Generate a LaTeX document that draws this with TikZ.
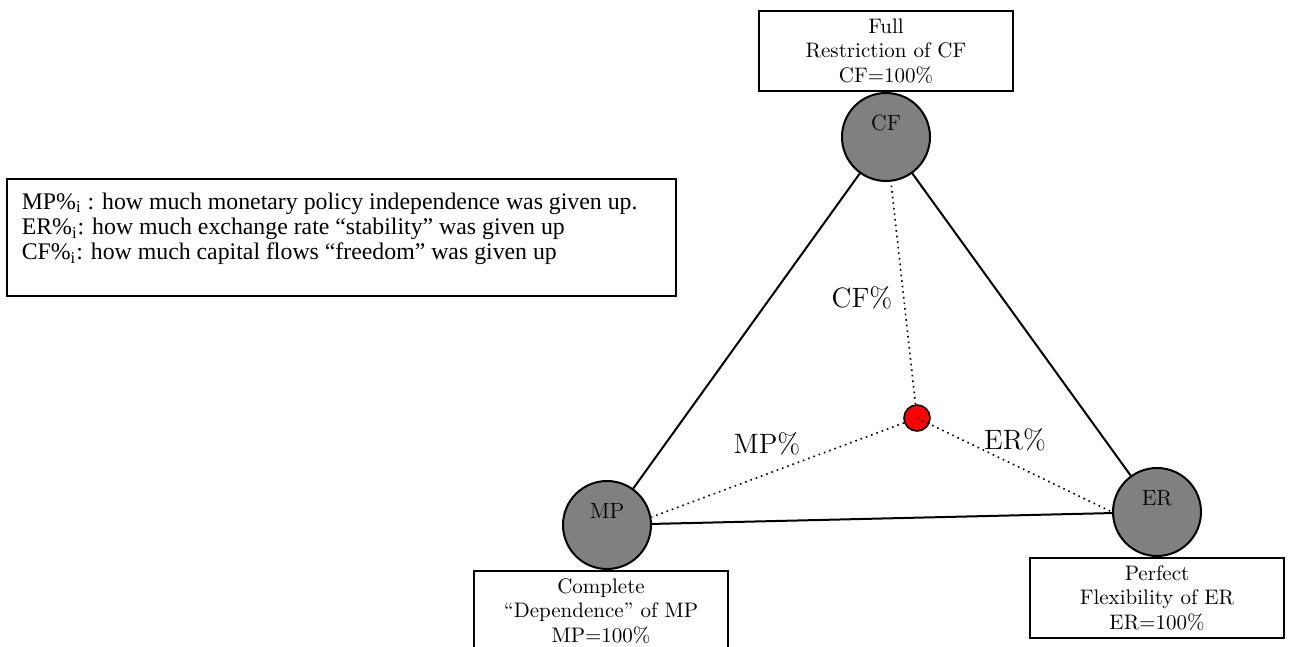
\documentclass[tikz,border=0pt]{standalone}
\usepackage{fontspec}
\newfontfamily\legendfont{Liberation Serif}
\usetikzlibrary{positioning}

\begin{document}
\begin{tikzpicture}[x = 0.5pt, y = -0.5pt, thick,
  pole/.style = {circle, draw, fill = pole, line width = 1pt, minimum size = 44pt, inner sep = 0pt},
  pole label/.style = {yshift = 7pt, font = \fontsize{11}{12.3}\selectfont},
  extreme/.style = {draw, line width = 0.8pt, minimum width = 127pt, minimum height = 40pt, inner sep = 2pt, align = center, font = \fontsize{10.5}{12.3}\selectfont},
  share/.style = {font = \fontsize{14}{16}\selectfont},
  given up/.style = {dotted, line width = 0.8pt}]
\colorlet{pole}{black!50}
\colorlet{point}{red}

\useasboundingbox (0, 0) rectangle (1291, 647);

\node[pole, label = {[pole label]center:CF}] (CF) at (886, 137) {};
\node[pole, label = {[pole label]center:MP}] (MP) at (607, 525) {};
\node[pole, label = {[pole label]center:ER}] (ER) at (1157, 512) {};

\node[extreme, above = 0pt of CF] (CF box) {Full\\Restriction of CF\\CF=100\%};
\node[extreme, below = 0pt of MP, xshift = -3pt] (MP box) {Complete\\``Dependence'' of MP\\MP=100\%};
\node[extreme, below = 0pt of ER] (ER box) {Perfect\\Flexibility of ER\\ER=100\%};

\draw[line width = 1pt] (CF) -- (MP) (CF) -- (ER) (MP) -- (ER);

\node[circle, draw, fill = point, line width = 0.8pt, minimum size = 13pt, inner sep = 0pt] (mix) at (917, 418) {};
\draw[given up] (mix) -- (CF) (mix) -- (MP.10) (mix.center) -- (ER.west);

\node[share] (CF share) at (862, 298) {CF\%};
\node[share] (MP share) at (767, 444) {MP\%};
\node[share] (ER share) at (1015, 440) {ER\%};

% legend
\node[draw, line width = 0.8pt, minimum width = 334.5pt, minimum height = 58.5pt, anchor = north west] (legend) at (6, 178) {};
\node[below right = 7pt and 7.5pt of legend.north west, inner sep = 0pt, align = left, font = \legendfont\fontsize{11.9}{12.6}\selectfont] (legend text) {
MP\%\textsubscript{i} : how much monetary policy independence was given up.\\
ER\%\textsubscript{i}: how much exchange rate “stability” was given up\\
CF\%\textsubscript{i}: how much capital flows “freedom” was given up};
\end{tikzpicture}
\end{document}
